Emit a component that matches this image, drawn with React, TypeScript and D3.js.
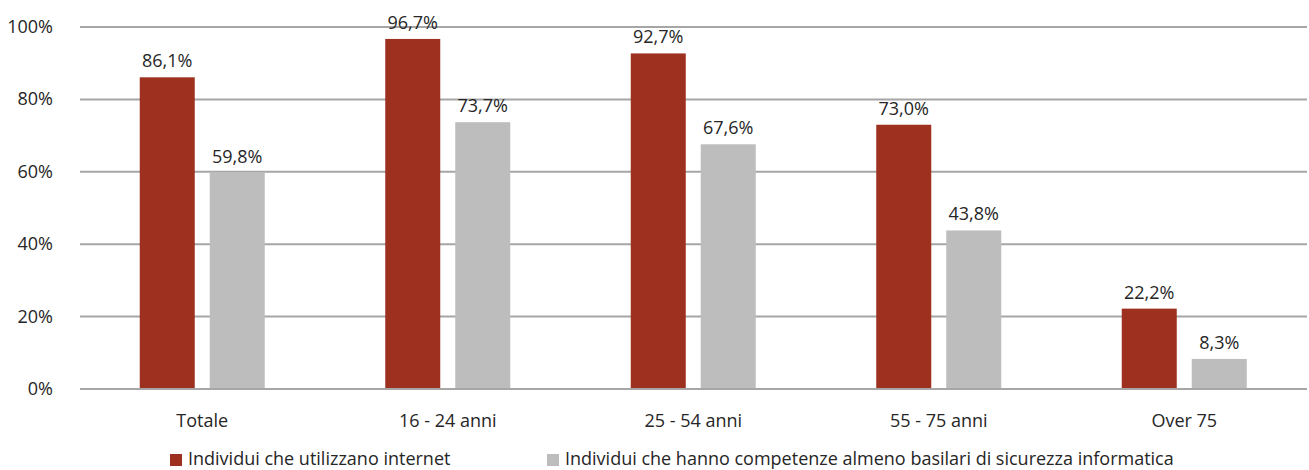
import React from "react";
import * as d3 from "d3";

const categories = ["Totale", "16 - 24 anni", "25 - 54 anni", "55 - 75 anni", "Over 75"];
const internetUsers = [86.1, 96.7, 92.7, 73.0, 22.2];
const securitySkills = [59.8, 73.7, 67.6, 43.8, 8.3];
const seriesNames = [
  "Individui che utilizzano internet",
  "Individui che hanno competenze almeno basilari di sicurezza informatica",
];
const seriesColors = ["#9E301F", "#BDBDBD"];
const yTicks = [0, 20, 40, 60, 80, 100];

const W = 1309;
const H = 470;
const FONT = "'Open Sans', 'Noto Sans', sans-serif";
const FS = 18;

export default function App() {
  const x = d3.scaleBand<string>().domain(categories).range([79.5, 1307]);
  const y = d3.scaleLinear().domain([0, 100]).range([389, 27]);
  const barW = 55;
  const gap = 15;
  const fmt = (v: number) => v.toFixed(1).replace(".", ",") + "%";
  const series = [internetUsers, securitySkills];

  return (
    <svg
      width={W}
      height={H}
      style={{ position: "absolute", left: 0, top: 0, background: "#fff" }}
      fontFamily={FONT}
    >
      {yTicks.map((t) => (
        <g key={t}>
          <line x1={80} x2={1307} y1={y(t)} y2={y(t)} stroke="#A6A6A6" strokeWidth={2} />
          <text x={53} y={y(t) + 6} textAnchor="end" fontSize={FS} fill="#262626">
            {t}%
          </text>
        </g>
      ))}
      {categories.map((c, i) => {
        const cx = x(c)! + x.bandwidth() / 2;
        return (
          <g key={c}>
            {series.map((vals, s) => {
              const left = s === 0 ? cx - gap / 2 - barW : cx + gap / 2;
              const v = vals[i];
              return (
                <g key={s}>
                  <rect x={left} y={y(v)} width={barW} height={y(0) - y(v) - 1} fill={seriesColors[s]} />
                  <text
                    x={left + barW / 2}
                    y={y(v) - 10}
                    textAnchor="middle"
                    fontSize={FS}
                    fill="#262626"
                  >
                    {fmt(v)}
                  </text>
                </g>
              );
            })}
            <text x={cx} y={427} textAnchor="middle" fontSize={FS} fill="#262626">
              {c}
            </text>
          </g>
        );
      })}
      {seriesNames.map((name, s) => {
        const lx = s === 0 ? 170 : 547;
        return (
          <g key={name}>
            <rect x={lx} y={454} width={12} height={12} fill={seriesColors[s]} />
            <text x={lx + 18} y={465} fontSize={FS} fill="#262626">
              {name}
            </text>
          </g>
        );
      })}
    </svg>
  );
}
